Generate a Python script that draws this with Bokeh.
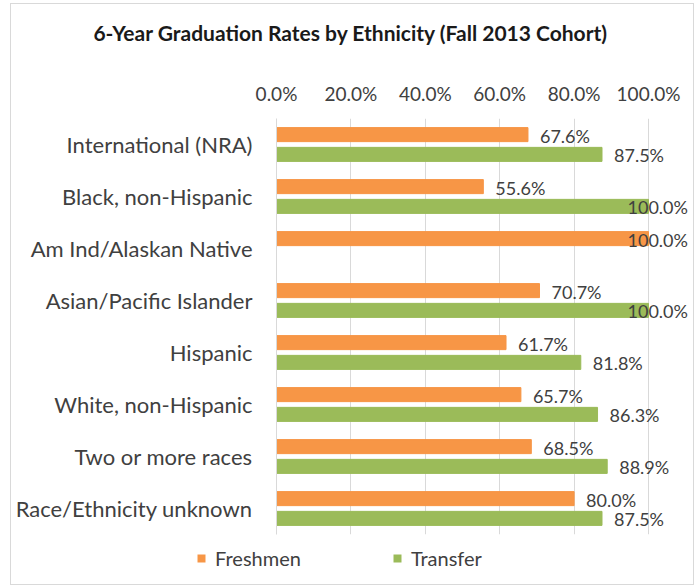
import math
from bokeh.plotting import figure
from bokeh.layouts import column
from bokeh.models import (ColumnDataSource, FactorRange, Range1d, PrintfTickFormatter,
                          FixedTicker, Legend, LegendItem, Label)
from bokeh.transform import dodge
from bokeh.core.properties import value
from bokeh.embed import file_html
from bokeh.resources import INLINE

# ---- data ----
categories = ["International (NRA)", "Black, non-Hispanic", "Am Ind/Alaskan Native",
              "Asian/Pacific Islander", "Hispanic", "White, non-Hispanic",
              "Two or more races", "Race/Ethnicity unknown"]
freshmen = [67.6, 55.6, 100.0, 70.7, 61.7, 65.7, 68.5, 80.0]
transfer = [87.5, 100.0, float("nan"), 100.0, 81.8, 86.3, 88.9, 87.5]
x_ticks = [0, 20, 40, 60, 80, 100]
series_names = ["Freshmen", "Transfer"]
title_text = "6-Year Graduation Rates by Ethnicity (Fall 2013 Cohort)"

# ---- style ----
FONT = "Lato"
COLORS = ["#F79646", "#9BBB59"]
TEXT = "#404040"
GRID = "#D9D9D9"

W = 682
TOP_H, MAIN_H, LEG_H = 60, 480, 40
FL = 265                 # frame left
FT = 114 - TOP_H         # frame top inside main figure
FB = 530 - TOP_H         # frame bottom inside main figure
SCALE_PX = 372           # pixels from 0% to 100%
X_END = 100 * (W - FL) / SCALE_PX   # frame runs to the right edge so labels are not clipped


def lbl(v):
    return "" if (v is None or math.isnan(v)) else f"{v:.1f}%"


def xoff(v):
    # Excel pulls labels that would overflow the chart back over the bar end
    if v is None or math.isnan(v):
        return 0
    return -21 if v >= 95 else 12


src = ColumnDataSource(dict(
    cat=categories, fr=freshmen, tr=transfer,
    fr_lbl=[lbl(v) for v in freshmen], tr_lbl=[lbl(v) for v in transfer],
    fr_off=[xoff(v) for v in freshmen], tr_off=[xoff(v) for v in transfer],
))


def blank(h):
    f = figure(width=W, height=h, x_range=Range1d(0, W), y_range=Range1d(0, h),
               x_axis_type=None, y_axis_type=None, output_backend="svg",
               toolbar_location=None, min_border=0, frame_align=False)
    f.outline_line_color = None
    return f


# ---- title strip ----
tp = blank(TOP_H)
tp.add_layout(Label(x=339.5, y=TOP_H - 28, text=title_text, text_align="center",
                    text_baseline="middle", text_font=FONT, text_font_size="21px",
                    text_font_style="bold", text_color="#1a1a1a"))

# ---- main chart ----
p = figure(width=W, height=MAIN_H,
           y_range=FactorRange(factors=categories[::-1]),
           x_range=Range1d(0, X_END), x_axis_location="above",
           output_backend="svg", toolbar_location=None, frame_align=False,
           min_border_left=FL, min_border_right=0,
           min_border_top=FT, min_border_bottom=MAIN_H - FB)

OFF = 0.19
BH = 0.27
p.hbar(y=dodge("cat", OFF, range=p.y_range), left=0, right="fr", height=BH,
       color=COLORS[0], source=src)
p.hbar(y=dodge("cat", -OFF, range=p.y_range), left=0, right="tr", height=BH,
       color=COLORS[1], source=src)

p.text(x="fr", y=dodge("cat", OFF, range=p.y_range), text="fr_lbl", x_offset="fr_off",
       y_offset=1, text_align="left", text_baseline="middle", text_font=value(FONT),
       text_font_size="18px", text_color=TEXT, source=src)
p.text(x="tr", y=dodge("cat", -OFF, range=p.y_range), text="tr_lbl", x_offset="tr_off",
       y_offset=1, text_align="left", text_baseline="middle", text_font=value(FONT),
       text_font_size="18px", text_color=TEXT, source=src)

xa = p.xaxis[0]
xa.ticker = FixedTicker(ticks=x_ticks)
xa.formatter = PrintfTickFormatter(format="%.1f%%")
xa.axis_line_color = None
xa.major_tick_line_color = None
xa.minor_tick_line_color = None
xa.major_tick_out = 0
xa.major_tick_in = 0
xa.major_label_standoff = 14
xa.major_label_text_font = FONT
xa.major_label_text_font_size = "19px"
xa.major_label_text_color = TEXT

ya = p.yaxis[0]
ya.axis_line_color = GRID
ya.major_tick_line_color = None
ya.minor_tick_line_color = None
ya.major_tick_out = 0
ya.major_tick_in = 0
ya.major_label_standoff = 24
ya.major_label_text_font = FONT
ya.major_label_text_font_size = "22px"
ya.major_label_text_color = TEXT

p.xgrid.grid_line_color = GRID
p.xgrid.ticker = FixedTicker(ticks=x_ticks)
p.ygrid.grid_line_color = None
p.outline_line_color = None

# ---- legend strip (zero-area stand-in glyphs only carry the legend swatches) ----
lp = blank(LEG_H)
stub = ColumnDataSource(dict(y=[0], left=[0], right=[0]))
d1 = lp.hbar(y="y", left="left", right="right", height=0, fill_color=COLORS[0],
             line_color=None, source=stub)
d2 = lp.hbar(y="y", left="left", right="right", height=0, fill_color=COLORS[1],
             line_color=None, source=stub)
legend = Legend(items=[LegendItem(label=series_names[0], renderers=[d1]),
                       LegendItem(label=series_names[1], renderers=[d2])],
                orientation="horizontal", location=(185, 14),
                glyph_width=10, glyph_height=10, label_standoff=9, spacing=91,
                label_text_font=FONT, label_text_font_size="20px", label_text_color=TEXT,
                border_line_color=None, background_fill_alpha=0, padding=0, margin=0)
lp.add_layout(legend, "center")

layout = column(tp, p, lp, spacing=0, margin=(3, 0, 0, 10),
                styles={"border": "1px solid #D9D9D9", "background": "white"})

open("out.html", "w").write(file_html(layout, INLINE))
